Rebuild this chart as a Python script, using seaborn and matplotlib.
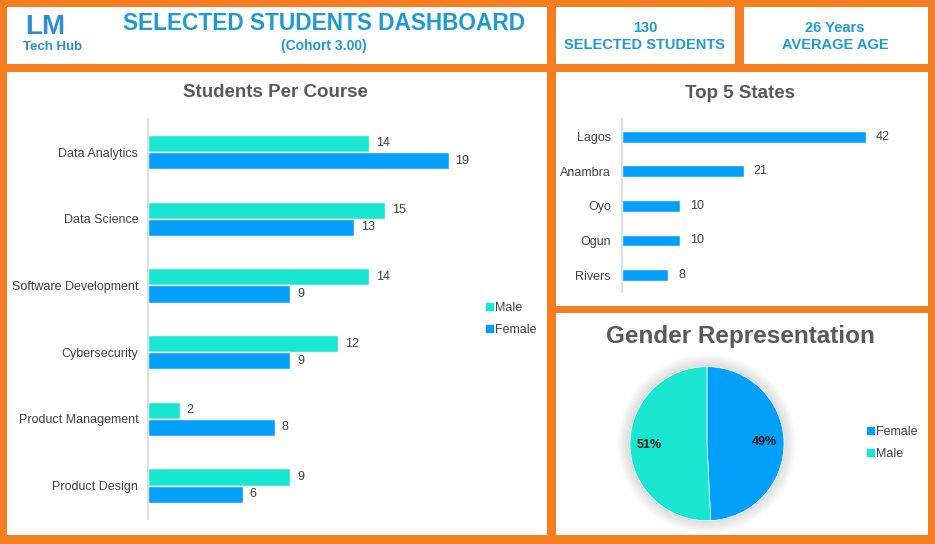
import numpy as np
import pandas as pd
import matplotlib
matplotlib.use("Agg")
import matplotlib.pyplot as plt
import seaborn as sns
from matplotlib.patches import Rectangle, Patch, Circle

# data
courses = ["Data Analytics", "Data Science", "Software Development",
           "Cybersecurity", "Product Management", "Product Design"]
male_counts = [14, 15, 14, 12, 2, 9]
female_counts = [19, 13, 9, 9, 8, 6]

states = ["Lagos", "Anambra", "Oyo", "Ogun", "Rivers"]
state_counts = [42, 21, 10, 10, 8]

total_students = 130
average_age = 26
cohort = "3.00"

ORANGE = "#F57C1F"
BLUE_TXT = "#1B9AD6"
MALE = "#19E6D0"
FEMALE = "#02A0FA"
GREY = "#595959"
TICK = "#404040"

sns.set_theme(style="white")
plt.rcParams["font.family"] = ["Liberation Sans", "DejaVu Sans"]

W, H = 935, 544
fig = plt.figure(figsize=(W / 100, H / 100), dpi=100)
fig.patch.set_facecolor(ORANGE)


def fx(x):
    return x / W


def fy(y):
    return 1 - y / H


def axes_px(l, t, r, b):
    return fig.add_axes([l / W, 1 - b / H, (r - l) / W, (b - t) / H])


def panel(l, t, r, b):
    fig.add_artist(Rectangle((l / W, 1 - b / H), (r - l) / W, (b - t) / H,
                             transform=fig.transFigure, facecolor="white",
                             edgecolor="none", zorder=-5))


# white panels
panel(7, 7, 547, 64)
panel(556, 7, 735, 64)
panel(744, 7, 928, 64)
panel(7, 72, 547, 535)
panel(556, 72, 928, 306)
panel(556, 313, 928, 535)

# header
fig.text(fx(45), fy(27), "LM", ha="center", va="center", fontsize=20,
         fontweight="bold", color="#2A8FD0")
fig.text(fx(53), fy(47), "Tech Hub", ha="center", va="center", fontsize=9.5,
         fontweight="bold", color="#2A8FD0")
fig.text(fx(324), fy(24), "SELECTED STUDENTS DASHBOARD", ha="center", va="center",
         fontsize=16.3, fontweight="bold", color=BLUE_TXT)
fig.text(fx(324), fy(46), f"(Cohort {cohort})", ha="center", va="center",
         fontsize=10, fontweight="bold", color=BLUE_TXT)

# KPI boxes
fig.text(fx(645), fy(28), f"{total_students}", ha="center", va="center",
         fontsize=10.5, fontweight="bold", color=BLUE_TXT)
fig.text(fx(645), fy(45), "SELECTED STUDENTS", ha="center", va="center",
         fontsize=10.5, fontweight="bold", color=BLUE_TXT)
fig.text(fx(835), fy(28), f"{average_age} Years", ha="center", va="center",
         fontsize=10.5, fontweight="bold", color=BLUE_TXT)
fig.text(fx(835), fy(45), "AVERAGE AGE", ha="center", va="center",
         fontsize=10.5, fontweight="bold", color=BLUE_TXT)

# Students per course
course_df = pd.DataFrame({
    "Course": courses * 2,
    "Gender": ["Male"] * len(courses) + ["Female"] * len(courses),
    "Students": male_counts + female_counts,
})
ax1 = axes_px(148, 118.7, 496, 519)
ax1.set_facecolor("none")
sns.barplot(data=course_df, x="Students", y="Course", hue="Gender",
            order=courses, hue_order=["Male", "Female"],
            palette={"Male": MALE, "Female": FEMALE}, orient="h",
            width=0.514, saturation=1, legend=False, ax=ax1)
for c in ax1.containers:
    ax1.bar_label(c, padding=5, fontsize=9, color=TICK)
ax1.set_xlim(0, 22)
ax1.set_ylim(len(courses) - 0.5, -0.5)
ax1.set_xlabel("")
ax1.set_ylabel("")
ax1.set_xticks([])
ax1.tick_params(axis="y", length=0, pad=7, labelsize=9, labelcolor=TICK)
for s in ["top", "right", "bottom"]:
    ax1.spines[s].set_visible(False)
ax1.spines["left"].set_color("#D9D9D9")
fig.text(fx(275), fy(92), "Students Per Course", ha="center", va="center",
         fontsize=13.5, fontweight="bold", color=GREY)
fig.legend(handles=[Patch(color=MALE, label="Male"), Patch(color=FEMALE, label="Female")],
           loc="center left", bbox_to_anchor=(fx(475), fy(319)), frameon=False,
           handlelength=0.5, handleheight=0.5, handletextpad=0.2, fontsize=9,
           labelspacing=0.75, labelcolor=TICK)

# Top 5 states
state_df = pd.DataFrame({"State": states, "Students": state_counts})
ax2 = axes_px(622, 119.4, 895, 292.3)
ax2.set_facecolor("none")
sns.barplot(data=state_df, x="Students", y="State", order=states, color=FEMALE,
            orient="h", width=0.34, saturation=1, ax=ax2)
ax2.bar_label(ax2.containers[0], padding=7, fontsize=9, color=TICK)
ax2.set_xlim(0, 47)
ax2.set_ylim(len(states) - 0.5, -0.5)
ax2.set_xlabel("")
ax2.set_ylabel("")
ax2.set_xticks([])
ax2.tick_params(axis="y", length=0, pad=8, labelsize=9, labelcolor=TICK)
for s in ["top", "right", "bottom"]:
    ax2.spines[s].set_visible(False)
ax2.spines["left"].set_color("#D9D9D9")
fig.text(fx(740), fy(93), "Top 5 States", ha="center", va="center",
         fontsize=13.5, fontweight="bold", color=GREY)

# Gender representation
gender_labels = ["Female", "Male"]
gender_vals = [sum(female_counts), sum(male_counts)]
R = 77
half = 95
ax3 = axes_px(707 - half, 443.7 - half, 707 + half, 443.7 + half)
ax3.set_facecolor("none")
for r in np.linspace(1.16, 1.0, 10):
    ax3.add_patch(Circle((0, 0), r, color="#888888", alpha=0.03, lw=0, zorder=0))
ax3.pie(gender_vals, colors=[FEMALE, MALE], startangle=90, counterclock=False,
        autopct=lambda p: f"{p:.0f}%", pctdistance=0.75,
        textprops=dict(fontsize=9, fontweight="bold", color="#1A1A1A"),
        wedgeprops=dict(linewidth=0.5, edgecolor="white"))
ax3.set_xlim(-half / R, half / R)
ax3.set_ylim(-half / R, half / R)
ax3.set_aspect("equal")
ax3.axis("off")
fig.text(fx(740), fy(337), "Gender Representation", ha="center", va="center",
         fontsize=17.5, fontweight="bold", color=GREY)
fig.legend(handles=[Patch(color=c, label=l) for c, l in zip([FEMALE, MALE], gender_labels)],
           loc="center left", bbox_to_anchor=(fx(856), fy(443)), frameon=False,
           handlelength=0.5, handleheight=0.5, handletextpad=0.2, fontsize=9,
           labelspacing=0.75, labelcolor=TICK)

fig.savefig("out.png", dpi=100, facecolor=fig.get_facecolor())
